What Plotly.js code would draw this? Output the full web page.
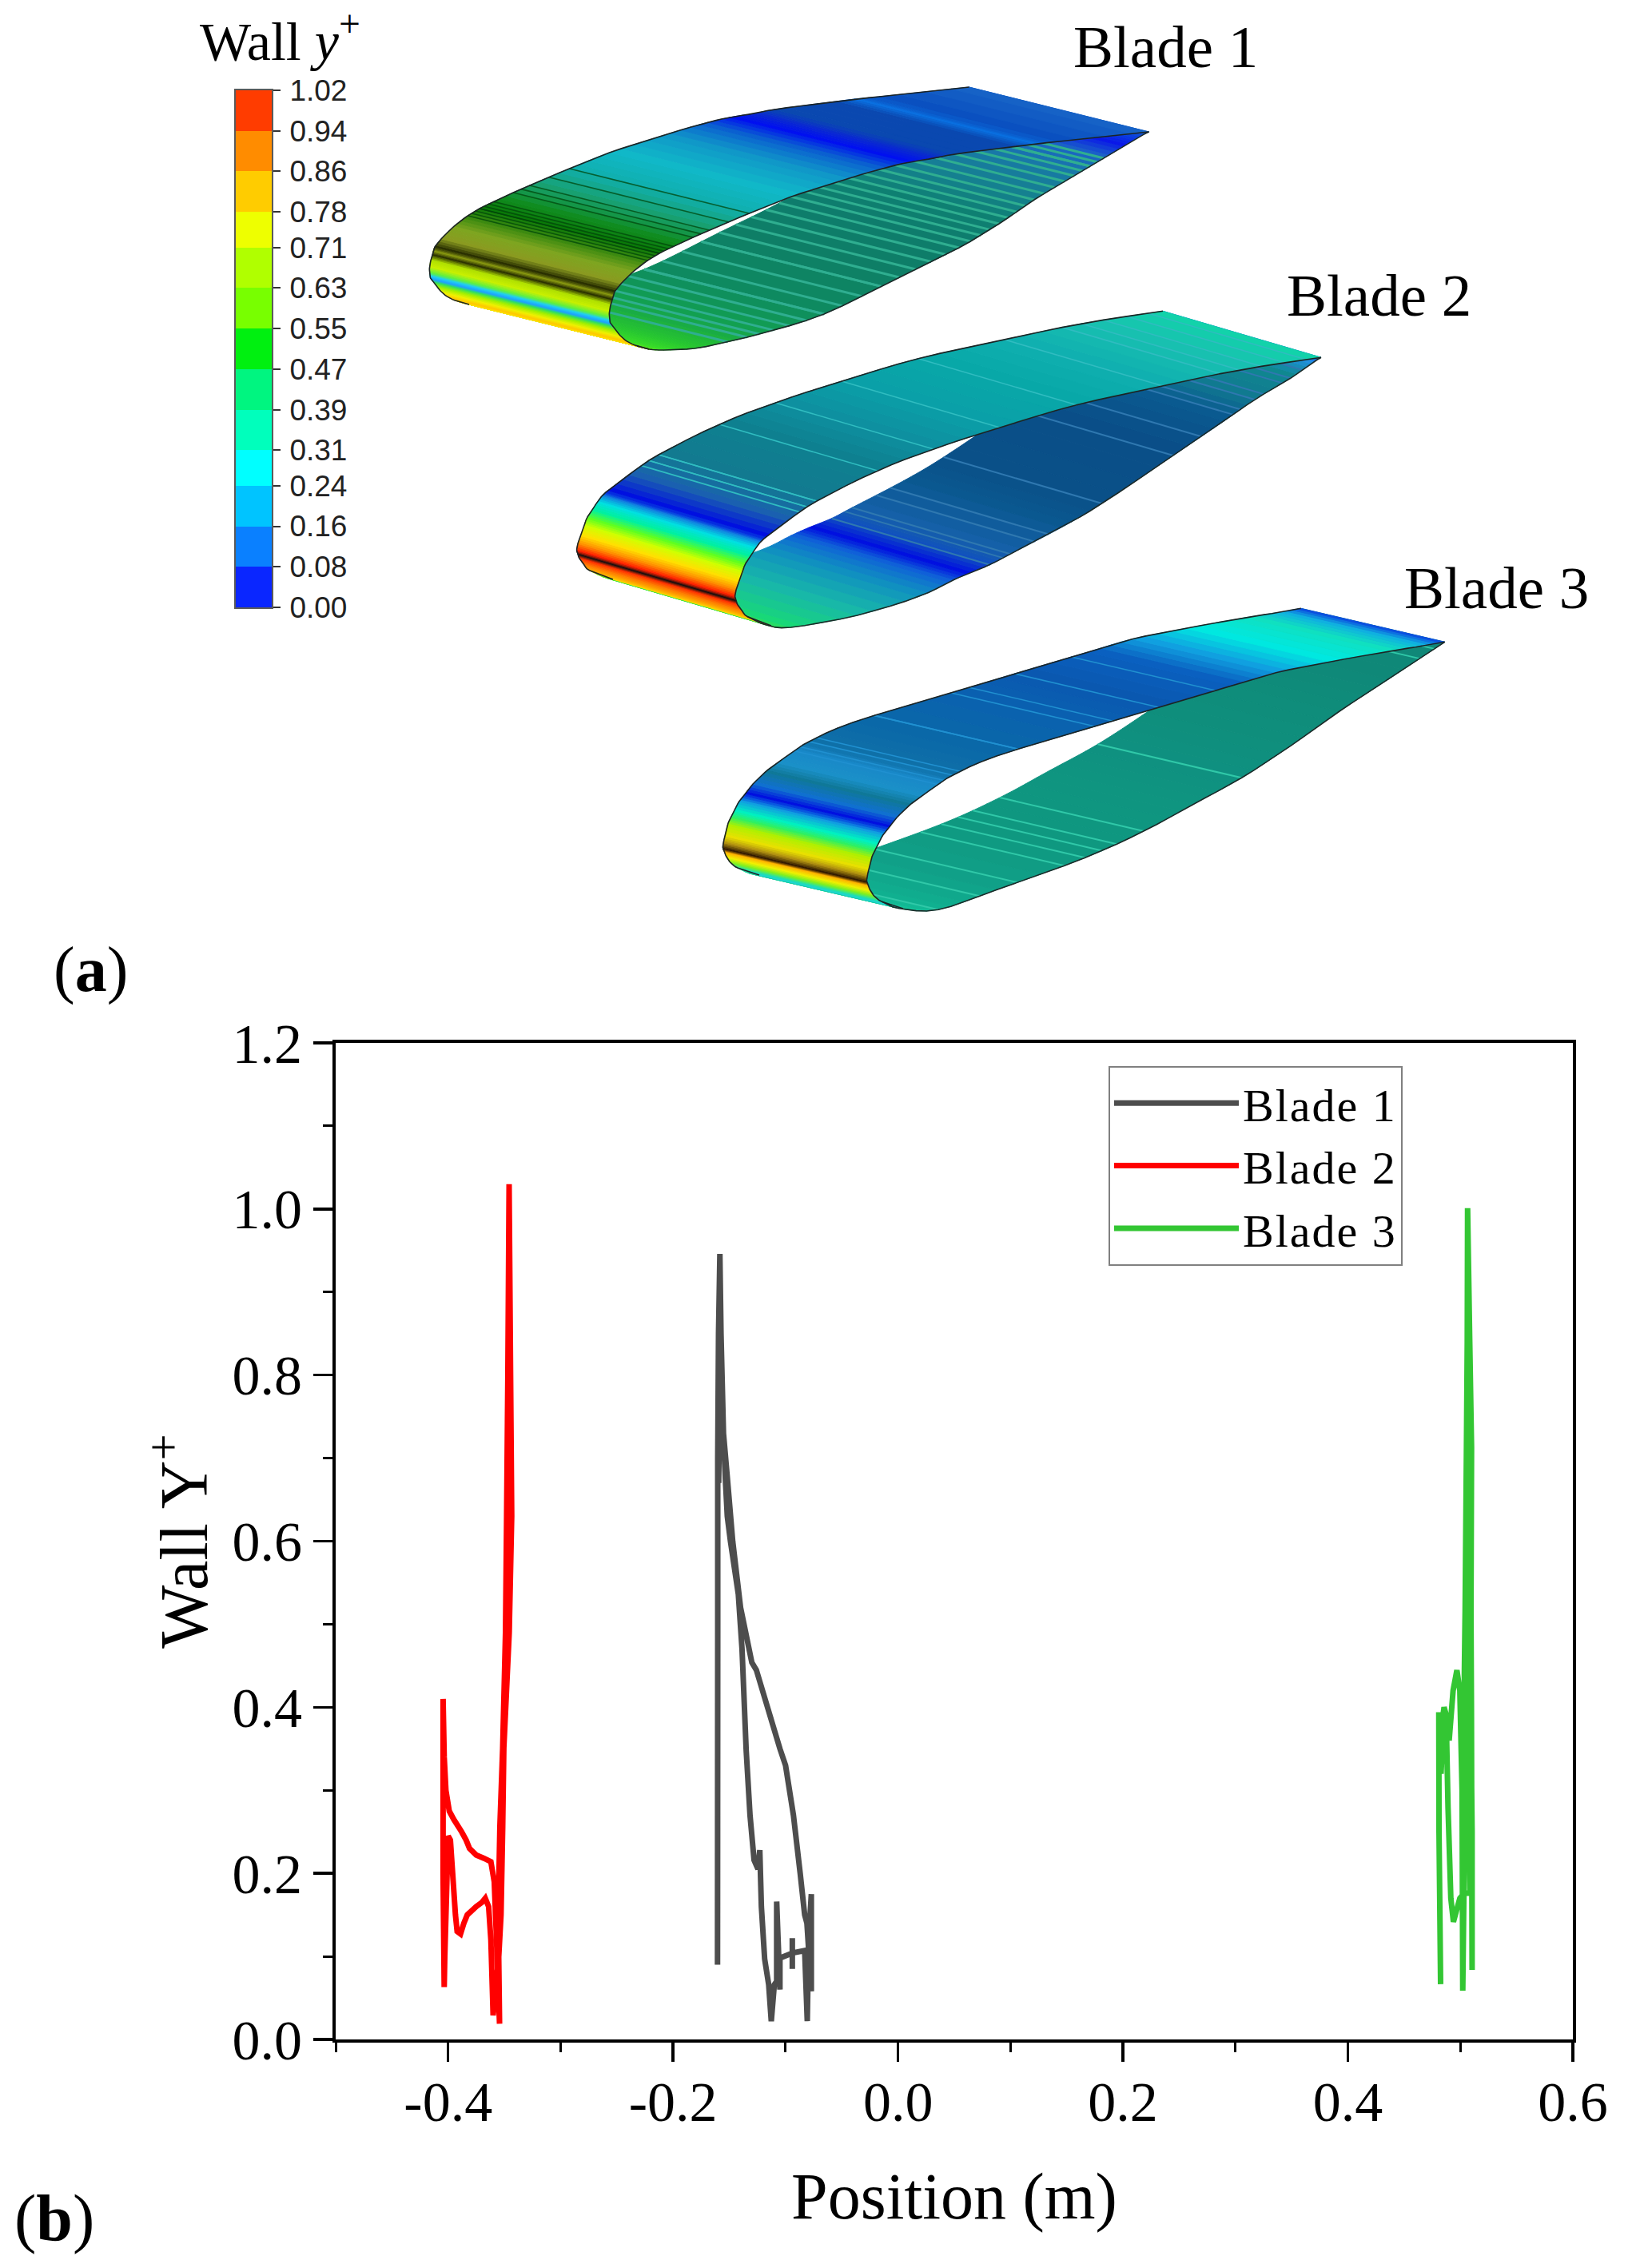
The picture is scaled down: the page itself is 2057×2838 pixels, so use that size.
<!DOCTYPE html>
<html>
<head>
<meta charset="utf-8">
<script src="https://cdn.plot.ly/plotly-3.0.1.min.js"></script>
<style>
html,body{margin:0;padding:0;background:#fff;overflow:hidden}
#plot{width:2057px;height:2838px}
.legendtext{letter-spacing:2px}
</style>
</head>
<body>
<div id="plot"></div>
<script>
// ---------- panel (b): Wall Y+ against position ----------
const blade1X=[-0.1605,-0.1603,-0.1603,-0.1596,-0.1584,-0.1574,-0.1551,-0.1535,-0.1518,-0.149,-0.142,-0.1387,-0.135,-0.1316,-0.128,-0.1245,-0.1229,-0.1215,-0.1186,-0.115,-0.1127,-0.11,-0.1079,-0.1079,-0.105,-0.105,-0.094,-0.094,-0.094,-0.094,-0.083,-0.0807,-0.0795,-0.0771,-0.0771,-0.081,-0.083,-0.087,-0.093,-0.1,-0.105,-0.126,-0.13,-0.14,-0.147,-0.152,-0.1565,-0.1578,-0.1595];
const blade1Y=[0.09,0.5,0.7,0.85,0.946,0.85,0.724,0.674,0.63,0.6,0.536,0.47,0.348,0.27,0.216,0.205,0.228,0.16,0.097,0.066,0.022,0.066,0.07,0.166,0.06,0.098,0.104,0.122,0.085,0.104,0.107,0.022,0.12,0.175,0.058,0.14,0.15,0.2,0.27,0.33,0.35,0.445,0.454,0.52,0.6,0.68,0.75,0.85,0.67];
const blade2X=[-0.4035,-0.4045,-0.4045,-0.4035,-0.402,-0.399,-0.395,-0.388,-0.384,-0.381,-0.375,-0.368,-0.362,-0.359,-0.357,-0.3543,-0.3555,-0.354,-0.3515,-0.349,-0.348,-0.3469,-0.3458,-0.3445,-0.3435,-0.3457,-0.3505,-0.3515,-0.353,-0.355,-0.36,-0.362,-0.364,-0.367,-0.37,-0.375,-0.383,-0.386,-0.389,-0.392,-0.3935,-0.396,-0.398,-0.4,-0.403,-0.4035];
const blade2Y=[0.063,0.2,0.41,0.34,0.3,0.275,0.265,0.25,0.24,0.23,0.222,0.218,0.214,0.19,0.12,0.019,0.15,0.256,0.351,0.49,0.63,0.8,1.03,0.8,0.63,0.49,0.351,0.256,0.15,0.1,0.029,0.12,0.16,0.17,0.165,0.16,0.15,0.14,0.127,0.13,0.15,0.2,0.24,0.245,0.1,0.063];
const blade3X=[0.4824,0.481,0.4808,0.4828,0.4845,0.4855,0.4875,0.49,0.4935,0.4969,0.4995,0.5015,0.5021,0.5033,0.5035,0.5042,0.5054,0.5061,0.5064,0.5083,0.5099,0.5094,0.5098,0.5104,0.5104,0.5085,0.507,0.5068,0.5075,0.5085,0.5033,0.4995,0.4938,0.4915,0.489,0.4875,0.4855,0.4828,0.4808,0.481,0.4824];
const blade3Y=[0.0665,0.25,0.394,0.32,0.39,0.4,0.39,0.36,0.42,0.4446,0.42,0.3,0.0587,0.2,0.44,0.514,0.713,0.84,1.001,0.84,0.713,0.514,0.4,0.0837,0.25,0.5,0.7,0.6,0.3,0.176,0.176,0.17,0.1415,0.17,0.28,0.38,0.4,0.32,0.394,0.25,0.0665];
const seriesNames=["Blade 1","Blade 2","Blade 3"];
const xTickValues=[-0.4,-0.2,0,0.2,0.4,0.6];
const xTickLabels=["-0.4","-0.2","0.0","0.2","0.4","0.6"];
const yTickValues=[0,0.2,0.4,0.6,0.8,1.0,1.2];
const yTickLabels=["0.0","0.2","0.4","0.6","0.8","1.0","1.2"];

// ---------- panel (a): legend of the contour bar ----------
const contourLevels=[0.00,0.08,0.16,0.24,0.31,0.39,0.47,0.55,0.63,0.71,0.78,0.86,0.94,1.02];
const contourLabels=["0.00","0.08","0.16","0.24","0.31","0.39","0.47","0.55","0.63","0.71","0.78","0.86","0.94","1.02"];
const contourColours=["#0a26ff","#0a80ff","#00c4ff","#00ffff","#00ffbc","#00f580","#00f010","#78ff00","#b0ff00","#eeff00","#ffcc00","#ff8c00","#ff3c00"];

// ---------- panel (a): the three blade surfaces, traced along the near end section ----------
const b1TopX=[812,797,786,778,772,767.5,764,763,762.5,762.5,764,766,767,769,777,790,806,825,850,887.5,937.5,987.5,1050,1100,1137.5,1169,1194,1262.5,1294,1325,1437.5];
const b1TopY=[437,433,428,422,415,409,405,401,397,390,382,375,370,365,355,342,329,317,305,288,267,247,227,212,203,198,193,184,180,177,165];
const b1TopC=["#ffe000","#ffe000","#ffc800","#f0f000","#a0f000","#30e060","#20a0ff","#20d0f0","#60f040","#c8f000","#b0e000","#2a3000","#8a9a10","#2a3000","#8a9a20","#7ea520","#3c8a10","#0a7a08","#108c20","#18a070","#10b0b0","#10b8c8","#1098c8","#0a60d0","#0010f0","#0a2ad0","#0a48b0","#0a48b0","#0a70e0","#0a50c0","#1a68c8"];
const b1LowX=[797,812.5,831,869,900,950,1031,1125,1200,1250,1294,1344,1381,1406,1422,1437.5];
const b1LowY=[433,437,438,436,430,418,393,347,310,280,250,220,198,183,173,165];
const b1LowC=["#a8f000","#70e810","#38dc28","#28c830","#20b838","#12a050","#0e8a60","#0e7e66","#0e7c6c","#0e8072","#158090","#1878a8","#1a60c8","#0a18e8","#0a40e0","#1a68c8"];
const b1Sweep=[-225,-56];
const b1LowStripes=[905,925,940,958,975,992,1010,1028,1046,1064,1082,1100,1118,1136,1154,1170,1186,1202,1216,1230,1244,1258,1270,1282,1294,1305,1316,1326,1336,1346,1355,1364,1372,1380];
const b1TopStripes=[808,812,816,820,824,828,832,838,860,870,880,905,925];

const b2TopX=[965,935.5,929,923,921,919.6,921,924.7,929,932,938.7,945,951.5,959,985,1022,1098,1168,1251,1347,1455,1551,1653];
const b2TopY=[783,771.7,765,756.7,751.7,746.7,738.3,728.3,716.7,706.7,696.7,686.7,678.3,671.7,652,627,589,562,535,506.7,483,463,447.3];
const b2TopC=["#ffe000","#ffb000","#ff8000","#ff3000","#101010","#ff2000","#ff9000","#ffe000","#d0ff00","#60ff20","#00f0a0","#00e0e0","#1080e0","#0010e0","#1a60b0","#127a90","#0e8090","#0e90a0","#0aa0a8","#08a8a8","#10b0b0","#18c0b0","#10d8a8"];
const b2LowX=[935.5,957.9,989.7,1072.7,1149,1187.4,1209.8,1238.5,1264,1328,1378.8,1468,1531.8,1570,1614.7,1640.3,1653];
const b2LowY=[771.7,781.7,785,770,746.7,728.3,718.3,706.7,693.3,660,630,570,526.7,500,473.3,455,447.3];
const b2LowC=["#a0f000","#50e830","#18d878","#18b8a8","#1090c0","#0f60d8","#0010e0","#1050c0","#1560a8","#0a5890","#0a5088","#0a4e88","#0a5a90","#107a90","#0f8890","#2090e0","#0a40f0"];
const b2Sweep=[-198,-58];
const b2LowStripes=[1238,1251,1261,1283,1302,1378.8,1468,1493,1532,1545,1564,1580,1596,1610,1625];
const b2TopStripes=[996,1003,1009,1015,1021.6,1085.4,1155.6,1251,1347,1449,1506,1530,1560,1590,1620];

const b3TopX=[1130,1103.5,1094.3,1089.4,1086.4,1084.5,1085,1087,1090,1094.3,1098.6,1104.7,1112.7,1121.9,1137.2,1152.5,1174,1192.3,1247,1370,1449.5,1541,1596.5,1663.8,1737.3,1780.2,1807.7];
const b3TopY=[1137,1128.3,1121.7,1115,1108.3,1104,1096.7,1088.3,1075,1065,1056.7,1045,1035,1023.3,1008.3,996.7,981.7,970,946,909,885,858,841.7,828.3,815,808.3,803.3];
const b3TopC=["#20d0e0","#20e0b0","#80f020","#f0f000","#ffb000","#301800","#b09010","#e8e000","#b0f000","#30f060","#00f0c0","#10a0e0","#0010e0","#1070d0","#0f7898","#1a90c8","#1888c8","#0f70a8","#0a68a8","#0a60b0","#0a58b0","#0a60c0","#10a0e0","#00e8e0","#10e0c0","#10b0e0","#0a30e0"];
const b3LowX=[1103.5,1125,1174,1247.4,1357.7,1431,1492.4,1553.6,1614.8,1676,1737.3,1807.7];
const b3LowY=[1128.3,1136.7,1138.3,1113.3,1073.3,1040,1006.7,973.3,933.3,890,850,803.3];
const b3LowC=["#30e0a0","#18d0a0","#10b090","#10a088","#0f9880","#0f9680","#0f9480","#0f9080","#0f8e7c","#0f8c7a","#0f8878","#108878"];
const b3Sweep=[-180,-42];
const b3LowStripes=[1174,1217,1272,1305,1336,1376,1388,1425,1553.6,1768,1792];
const b3TopStripes=[1174,1180,1186,1195,1254,1260,1345,1388,1431,1511];

// ---------- figure geometry ----------
const W=2057,H=2838;
const px=v=>v/W, py=v=>1-v/H;

function hex(c){return [1,3,5].map(i=>parseInt(c.substr(i,2),16));}
function mix(a,b,u){const A=hex(a),B=hex(b);return "rgb("+A.map((v,i)=>Math.round(v+(B[i]-v)*u)).join(",")+")";}
function spline(p0,p1,p2,p3,u){
  return 0.5*((2*p1)+(-p0+p2)*u+(2*p0-5*p1+4*p2-p3)*u*u+(-p0+3*p1-3*p2+p3)*u*u*u);
}
function densify(X,Y,C,k){
  const out=[],n=X.length;
  for(let i=0;i<n-1;i++){
    const a=Math.max(i-1,0),d=Math.min(i+2,n-1);
    for(let j=0;j<k;j++){
      const u=j/k;
      out.push({x:spline(X[a],X[i],X[i+1],X[d],u),y:spline(Y[a],Y[i],Y[i+1],Y[d],u),c:mix(C[i],C[i+1],u)});
    }
  }
  out.push({x:X[n-1],y:Y[n-1],c:mix(C[n-1],C[n-1],0)});
  return out;
}
const ax2={xaxis:"x2",yaxis:"y2",hoverinfo:"skip",showlegend:false,cliponaxis:false};
const shapes3=[];
function ribbon(X,Y,C,V){
  const D=densify(X,Y,C,4);
  for(let i=0;i<D.length-1;i++){
    const a=D[i],b=D[i+1];
    shapes3.push(Object.assign({type:"scatter",mode:"lines",fill:"toself",fillcolor:a.c,
      line:{color:a.c,width:1},
      x:[a.x,b.x,b.x+V[0],a.x+V[0],a.x],y:[a.y,b.y,b.y+V[1],a.y+V[1],a.y]},ax2));
  }
  return D;
}
function stripes(D,V,list,colour,width){
  let m=0;D.forEach((p,i)=>{if(p.x<D[m].x)m=i;});
  const xs=[],ys=[];
  list.forEach(v=>{
    const p=D.slice(m).find(q=>q.x>=v);
    if(p){xs.push(p.x,p.x+V[0],null);ys.push(p.y,p.y+V[1],null);}
  });
  shapes3.push(Object.assign({type:"scatter",mode:"lines",line:{color:colour,width:width},x:xs,y:ys},ax2));
}
function outline(D,V,edge,width){
  const a=D.map(p=>p.x),b=D.map(p=>p.y);
  shapes3.push(Object.assign({type:"scatter",mode:"lines",line:{color:edge,width:width},x:a,y:b},ax2));
  if(V){
    shapes3.push(Object.assign({type:"scatter",mode:"lines",line:{color:edge,width:width},x:a.map(v=>v+V[0]),y:b.map(v=>v+V[1])},ax2));
  }
}
function blade(tx,ty,tc,lx,ly,lc,V,lowS,lowC,lowW,topS,topC){
  const low=ribbon(lx,ly,lc,V);
  stripes(low,V,lowS,lowC,lowW);
  const top=ribbon(tx,ty,tc,V);
  stripes(top,V,topS,topC,1.6);
  outline(low,null,"#1c2a28",1.6);
  outline(top,V,"#1c2424",1.6);
}
blade(b1TopX,b1TopY,b1TopC,b1LowX,b1LowY,b1LowC,b1Sweep,b1LowStripes,"#2fae90",3,b1TopStripes,"rgba(0,70,10,0.75)");
blade(b2TopX,b2TopY,b2TopC,b2LowX,b2LowY,b2LowC,b2Sweep,b2LowStripes,"#2f78b0",2,b2TopStripes,"#30bcc0");
blade(b3TopX,b3TopY,b3TopC,b3LowX,b3LowY,b3LowC,b3Sweep,b3LowStripes,"#30c8a8",2,b3TopStripes,"#2090d0");

// ---------- traces ----------
const lineTraces=[
  {x:blade1X,y:blade1Y,color:"#4d4d4d"},
  {x:blade2X,y:blade2Y,color:"#ff0000"},
  {x:blade3X,y:blade3Y,color:"#33c633"}
].map((s,i)=>({type:"scatter",mode:"lines",name:seriesNames[i],x:s.x,y:s.y,
  line:{color:s.color,width:7,simplify:false},hoverinfo:"x+y+name"}));

const barScale=[];
contourColours.forEach((c,i)=>{barScale.push([i/13,c],[(i+1)/13,c]);});
const barTrace={type:"heatmap",xaxis:"x3",yaxis:"y3",x:[0,1],y:contourLevels,
  z:contourColours.map((c,i)=>[i]),zmin:-0.5,zmax:12.5,colorscale:barScale,showscale:false,hoverinfo:"skip"};

// ---------- layout ----------
const serif="Liberation Serif";
function note(text,x,y,size,opts){
  return Object.assign({text:text,xref:"paper",yref:"paper",x:px(x),y:py(y),xanchor:"center",yanchor:"middle",
    showarrow:false,font:{family:serif,size:size,color:"#000"}},opts||{});
}
const layout={
  width:W,height:H,margin:{l:0,r:0,t:0,b:0},paper_bgcolor:"#fff",plot_bgcolor:"rgba(0,0,0,0)",
  font:{family:serif,color:"#000"},
  xaxis:{domain:[px(420),px(1968)],range:[-0.5,0.6],anchor:"y",showgrid:false,zeroline:false,
    showline:true,linecolor:"#000",linewidth:4,mirror:true,ticks:"outside",ticklen:24,tickwidth:3.5,tickcolor:"#000",
    tickmode:"array",tickvals:xTickValues,ticktext:xTickLabels,tickfont:{family:serif,size:70,color:"#000"},ticklabelstandoff:-10,
    minor:{tickmode:"array",tickvals:[-0.5,-0.3,-0.1,0.1,0.3,0.5],ticks:"outside",ticklen:12,tickwidth:3,tickcolor:"#000",showgrid:false},
    title:{text:"Position (m)",font:{family:serif,size:82,color:"#000"},standoff:52}},
  yaxis:{domain:[py(2552),py(1305)],range:[0,1.2],anchor:"x",showgrid:false,zeroline:false,
    showline:true,linecolor:"#000",linewidth:4,mirror:true,ticks:"outside",ticklen:24,tickwidth:3.5,tickcolor:"#000",
    tickmode:"array",tickvals:yTickValues,ticktext:yTickLabels,tickfont:{family:serif,size:70,color:"#000"},
    minor:{tickmode:"array",tickvals:[0.1,0.3,0.5,0.7,0.9,1.1],ticks:"outside",ticklen:12,tickwidth:3,tickcolor:"#000",showgrid:false},
    title:{text:"Wall Y<sup>+</sup>",font:{family:serif,size:84,color:"#000"},standoff:4}},
  xaxis2:{domain:[0,1],range:[0,W],anchor:"y2",visible:false,fixedrange:true},
  yaxis2:{domain:[py(1200),1],range:[1200,0],anchor:"x2",visible:false,fixedrange:true},
  xaxis3:{domain:[px(295),px(340)],range:[0,1],anchor:"y3",showticklabels:false,ticks:"",showgrid:false,zeroline:false,
    showline:true,linecolor:"#5a5a5a",linewidth:2,mirror:true,fixedrange:true},
  yaxis3:{domain:[py(760),py(113)],range:[0,1.02],anchor:"x3",side:"right",showgrid:false,zeroline:false,
    showline:true,linecolor:"#5a5a5a",linewidth:2,mirror:true,ticks:"outside",ticklen:9,tickwidth:2,tickcolor:"#333",
    tickmode:"array",tickvals:contourLevels,ticktext:contourLabels,
    tickfont:{family:"Liberation Sans",size:37,color:"#222"},ticklabelstandoff:4,fixedrange:true},
  legend:{x:px(1387),y:py(1334),xanchor:"left",yanchor:"top",bgcolor:"#fff",bordercolor:"#808080",borderwidth:2,
    font:{family:serif,size:58,color:"#000"},itemwidth:156,tracegroupgap:0,entrywidth:210,entrywidthmode:"pixels"},
  annotations:[
    note("Wall <i>y</i><sup>+</sup>",350,47,68),
    note("Blade 1",1458,59,75),
    note("Blade 2",1725,370,75),
    note("Blade 3",1872,736,75),
    note("(<b>a</b>)",113,1213,80),
    note("(<b>b</b>)",68,2775,82)
  ]
};
Plotly.newPlot("plot",lineTraces.concat(shapes3,[barTrace]),layout,{staticPlot:true,displayModeBar:false});
</script>
</body>
</html>
